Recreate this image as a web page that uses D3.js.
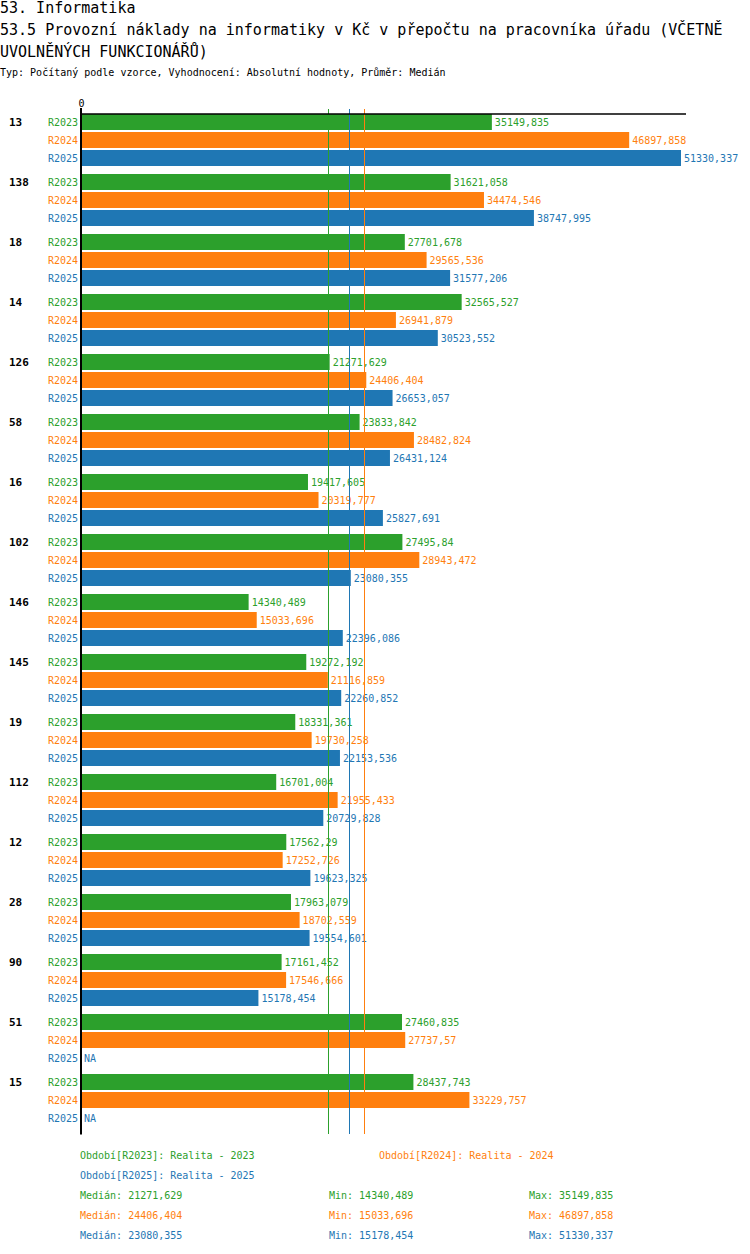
<!DOCTYPE html>
<html>
<head>
<meta charset="utf-8">
<script src="https://cdn.jsdelivr.net/npm/d3@7"></script>
<style>
  html, body { margin: 0; padding: 0; background: #fff; }
  svg { display: block; }
  text { font-family: "DejaVu Sans Mono", "Liberation Mono", monospace; }
</style>
</head>
<body>
<svg id="chart" width="750" height="1254"></svg>
<script>
const groups = ["13","138","18","14","126","58","16","102","146","145","19","112","12","28","90","51","15"];
const series = ["R2023","R2024","R2025"];
const values2023 = [35149.835,31621.058,27701.678,32565.527,21271.629,23833.842,19417.605,27495.84,14340.489,19272.192,18331.361,16701.004,17562.29,17963.079,17161.452,27460.835,28437.743];
const values2024 = [46897.858,34474.546,29565.536,26941.879,24406.404,28482.824,20319.777,28943.472,15033.696,21116.859,19730.258,21955.433,17252.726,18702.559,17546.666,27737.57,33229.757];
const values2025 = [51330.337,38747.995,31577.206,30523.552,26653.057,26431.124,25827.691,23080.355,22396.086,22260.852,22153.536,20729.828,19623.325,19554.601,15178.454,null,null];
const medians = [21271.629, 24406.404, 23080.355];
const mins = [14340.489, 15033.696, 15178.454];
const maxs = [35149.835, 46897.858, 51330.337];
const legendLabels = ["Období[R2023]: Realita - 2023","Období[R2024]: Realita - 2024","Období[R2025]: Realita - 2025"];
const titleLines = ["53. Informatika","53.5 Provozní náklady na informatiky v Kč v přepočtu na pracovníka úřadu (VČETNĚ","UVOLNĚNÝCH FUNKCIONÁŘŮ)"];
const subtitle = "Typ: Počítaný podle vzorce, Vyhodnocení: Absolutní hodnoty, Průměr: Medián";
const tickValues = [0];

const colors = ["#2ca02c","#ff7f0e","#1f77b4"];
const seriesValues = [values2023, values2024, values2025];
const fmt = v => String(v).replace(".", ",");

const svg = d3.select("#chart");

// Titles
svg.append("text").attr("x", 0).attr("y", 13).attr("font-size", 15).text(titleLines[0]);
svg.append("text").attr("x", 0).attr("y", 35).attr("font-size", 15).text(titleLines[1]);
svg.append("text").attr("x", 0).attr("y", 57).attr("font-size", 15).text(titleLines[2]);
svg.append("text").attr("x", 0).attr("y", 76).attr("font-size", 10).text(subtitle);

const x0 = 81;
const x = d3.scaleLinear().domain([0, d3.max(maxs)]).range([x0, x0 + 600]);
const y = d3.scaleBand().domain(groups).range([114, 114 + 60 * groups.length]);
const ys = d3.scaleBand().domain(series).range([0, 52]).paddingInner(2 / 18);

const data = [];
groups.forEach((g, gi) => series.forEach((s, si) => data.push({g, s, si, v: seriesValues[si][gi]})));

// Bars
svg.append("g").selectAll("rect")
  .data(data.filter(d => d.v != null))
  .join("rect")
  .attr("x", x(0))
  .attr("y", d => y(d.g) + ys(d.s))
  .attr("width", d => x(d.v) - x(0))
  .attr("height", ys.bandwidth())
  .attr("fill", d => colors[d.si]);

// Value labels
svg.append("g").selectAll("text")
  .data(data)
  .join("text")
  .attr("x", d => (d.v != null ? x(d.v) : x(0)) + 3)
  .attr("y", d => y(d.g) + ys(d.s) + ys.bandwidth() / 2 + 4)
  .attr("font-size", 10)
  .attr("fill", d => colors[d.si])
  .text(d => d.v != null ? fmt(d.v) : "NA");

// Series labels
svg.append("g").selectAll("text")
  .data(data)
  .join("text")
  .attr("x", 78)
  .attr("y", d => y(d.g) + ys(d.s) + ys.bandwidth() / 2 + 4)
  .attr("text-anchor", "end")
  .attr("font-size", 10)
  .attr("fill", d => colors[d.si])
  .text(d => d.s);

// Group labels
svg.append("g").selectAll("text")
  .data(groups)
  .join("text")
  .attr("x", 9)
  .attr("y", g => y(g) + ys("R2023") + ys.bandwidth() / 2 + 4)
  .attr("font-size", 11)
  .attr("font-weight", "bold")
  .text(g => g);

// Median lines (drawn over bars)
const bottom = y.range()[1];
svg.append("g").selectAll("line")
  .data(medians)
  .join("line")
  .attr("x1", d => Math.round(x(d)) - 1.5)
  .attr("x2", d => Math.round(x(d)) - 1.5)
  .attr("y1", 109)
  .attr("y2", bottom)
  .attr("stroke", (d, i) => colors[i])
  .attr("stroke-width", 1);

// Axis
const axis = d3.axisTop(d3.scaleLinear().domain([0, d3.max(maxs)]).range([x0, x0 + 605]))
  .tickValues(tickValues).tickSize(0).tickFormat(d3.format("d"));
const ag = svg.append("g").attr("transform", "translate(0,114)").call(axis);
ag.select(".domain").attr("stroke", "#000").attr("stroke-width", 1.5).attr("d", `M${x0},0H${x0 + 605}`);
ag.selectAll(".tick text").attr("font-family", "DejaVu Sans Mono").attr("font-size", 10).attr("y", -7).attr("fill", "#000");
svg.append("line").attr("x1", x0).attr("x2", x0).attr("y1", 108).attr("y2", bottom + 0.5)
  .attr("stroke", "#000").attr("stroke-width", 2);

// Legend
const legPos = [[80, 1159], [379, 1159], [80, 1179]];
legendLabels.forEach((t, i) => {
  svg.append("text").attr("x", legPos[i][0]).attr("y", legPos[i][1]).attr("font-size", 10).attr("fill", colors[i]).text(t);
});
series.forEach((s, i) => {
  const yy = 1199 + 20 * i;
  svg.append("text").attr("x", 80).attr("y", yy).attr("font-size", 10).attr("fill", colors[i]).text("Medián: " + fmt(medians[i]));
  svg.append("text").attr("x", 329).attr("y", yy).attr("font-size", 10).attr("fill", colors[i]).text("Min: " + fmt(mins[i]));
  svg.append("text").attr("x", 529).attr("y", yy).attr("font-size", 10).attr("fill", colors[i]).text("Max: " + fmt(maxs[i]));
});
</script>
</body>
</html>
